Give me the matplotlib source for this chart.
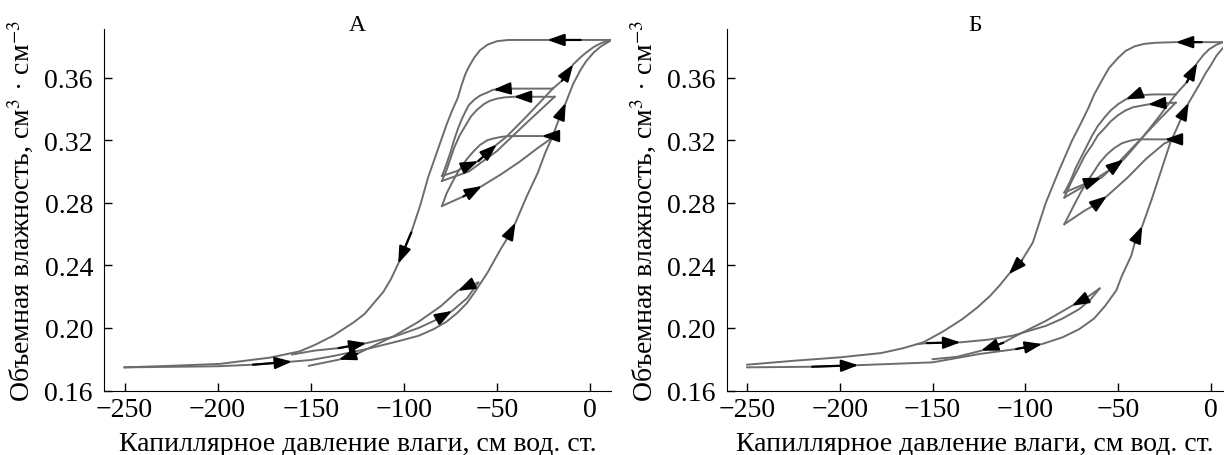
import matplotlib
matplotlib.use("Agg")
import matplotlib.pyplot as plt

plt.rcParams['font.family'] = ['Liberation Serif', 'DejaVu Serif']
plt.rcParams['mathtext.fontset'] = 'stix'

# ---- panel A: curves in the order of travel ----
a_dry_main_x = [11, -5, -23, -44, -50, -55, -59, -62, -65, -67, -69, -71, -74, -77, -82, -87, -91, -96, -103, -107, -111, -116, -121, -127, -138, -148, -156, -172, -199, -225, -250]
a_dry_main_y = [0.384, 0.384, 0.384, 0.384, 0.3832, 0.381, 0.3775, 0.373, 0.367, 0.362, 0.355, 0.347, 0.339, 0.330, 0.313, 0.296, 0.279, 0.261, 0.241, 0.231, 0.223, 0.216, 0.209, 0.2035, 0.195, 0.189, 0.185, 0.181, 0.177, 0.1758, 0.1748]

a_wet_main_x = [-250, -200, -181, -160, -150, -138, -120, -102, -92, -84, -77, -71, -66, -62, -55, -48, -44, -40, -34, -28, -24, -20, -16.5, -13, -9, -5, -2, 2, 6, 11]
a_wet_main_y = [0.1748, 0.1755, 0.1765, 0.1785, 0.1795, 0.182, 0.1865, 0.1918, 0.195, 0.1992, 0.204, 0.2099, 0.216, 0.2227, 0.2354, 0.2503, 0.258, 0.2673, 0.284, 0.2992, 0.312, 0.3226, 0.334, 0.3439, 0.356, 0.365, 0.3705, 0.376, 0.380, 0.3835]

a_scan_wet1_x = [-160, -148, -135, -120, -105, -92, -82, -74, -66, -60]
a_scan_wet1_y = [0.183, 0.1855, 0.1871, 0.1903, 0.1945, 0.200, 0.2055, 0.2109, 0.219, 0.229]
a_scan_dry1_x = [-60, -66, -71, -80, -92, -105, -125, -135, -151]
a_scan_dry1_y = [0.229, 0.2265, 0.2237, 0.214, 0.204, 0.195, 0.1835, 0.1797, 0.1758]

a_dry_s1_x = [-20, -35, -44, -52, -55, -59, -62, -65, -67, -69, -71, -73, -75, -77, -78.5, -79.5]
a_dry_s1_y = [0.3529, 0.3529, 0.3529, 0.3522, 0.3505, 0.3485, 0.346, 0.3425, 0.338, 0.333, 0.327, 0.320, 0.312, 0.305, 0.300, 0.2971]
a_wet_s1_x = [-79.5, -72, -64, -60, -50, -45, -35, -27, -20]
a_wet_s1_y = [0.2971, 0.300, 0.3045, 0.3066, 0.3173, 0.322, 0.334, 0.344, 0.3529]
a_dry_s2_x = [-19, -32, -41, -46, -50, -54, -57, -61, -64, -67, -70, -73, -75, -77, -79.5]
a_dry_s2_y = [0.3477, 0.3477, 0.3477, 0.3473, 0.3465, 0.345, 0.343, 0.339, 0.335, 0.329, 0.323, 0.315, 0.308, 0.301, 0.2939]
a_wet_s2_x = [-79.5, -65, -50, -35, -19]
a_wet_s2_y = [0.2939, 0.300, 0.313, 0.330, 0.3477]
a_dry_s3_x = [-19, -20, -26, -44, -48, -52, -55, -59, -62, -65, -68, -71, -74, -77, -79.5]
a_dry_s3_y = [0.3226, 0.3226, 0.3226, 0.3226, 0.322, 0.321, 0.320, 0.317, 0.3135, 0.3095, 0.305, 0.2995, 0.293, 0.286, 0.2779]
a_wet_s3_x = [-79.5, -68, -58, -48, -38, -28, -19]
a_wet_s3_y = [0.2779, 0.284, 0.2907, 0.298, 0.306, 0.315, 0.3226]
a_wet_top_x = [-20, -15, -9, -5, -2, 2, 6, 11]
a_wet_top_y = [0.3529, 0.358, 0.3684, 0.373, 0.376, 0.3795, 0.382, 0.384]

# ---- panel B ----
b_dry_main_x = [6.5, -5, -19, -30, -36, -41, -46, -50, -55, -59, -63, -66, -70, -75, -82, -89, -96, -102, -109, -114, -119, -126, -134, -144, -155, -166, -178, -200, -225, -250]
b_dry_main_y = [0.3826, 0.3826, 0.3826, 0.3822, 0.3815, 0.380, 0.377, 0.3726, 0.366, 0.3577, 0.349, 0.3407, 0.331, 0.3194, 0.3003, 0.280, 0.2546, 0.243, 0.2343, 0.227, 0.2205, 0.213, 0.2056, 0.198, 0.1908, 0.187, 0.1839, 0.1812, 0.179, 0.1765]

b_wet_main_x = [-250, -215, -190, -172, -150, -125, -105, -91, -80, -71, -63, -57, -51, -48, -43, -41, -37, -32, -27, -22, -16, -12, -6, -3, 0, 3, 6.5]
b_wet_main_y = [0.1748, 0.1752, 0.1762, 0.177, 0.178, 0.1833, 0.1865, 0.1897, 0.194, 0.1992, 0.206, 0.2141, 0.224, 0.2333, 0.246, 0.2546, 0.2652, 0.282, 0.300, 0.318, 0.334, 0.3439, 0.356, 0.3625, 0.368, 0.374, 0.379]

b_scan_wet1_x = [-158, -153, -135, -120, -107, -89, -80, -71, -65, -60]
b_scan_wet1_y = [0.1897, 0.1903, 0.1908, 0.1925, 0.195, 0.2013, 0.206, 0.212, 0.218, 0.2252]
b_scan_dry1_x = [-60, -68, -75, -89, -105, -112, -124, -137, -150]
b_scan_dry1_y = [0.2252, 0.2185, 0.2141, 0.2045, 0.195, 0.1905, 0.1854, 0.1815, 0.1800]

b_dry_s1_x = [-19, -30, -38, -42, -46, -50, -54, -57, -61, -64, -67, -70, -73, -75, -77, -79]
b_dry_s1_y = [0.3492, 0.3492, 0.3488, 0.348, 0.346, 0.343, 0.339, 0.335, 0.329, 0.323, 0.316, 0.309, 0.302, 0.296, 0.291, 0.2865]
b_wet_s1_x = [-79, -68, -59, -54, -47, -38, -28, -19]
b_wet_s1_y = [0.2865, 0.292, 0.296, 0.3015, 0.3077, 0.320, 0.335, 0.3492]
b_dry_s2_x = [-19, -27, -34, -42, -46, -50, -54, -57, -61, -64, -68, -71, -75, -79]
b_dry_s2_y = [0.3439, 0.3435, 0.3428, 0.341, 0.339, 0.336, 0.332, 0.328, 0.323, 0.317, 0.310, 0.303, 0.294, 0.2833]
b_wet_s2_x = [-79, -65, -52, -40, -28, -19]
b_wet_s2_y = [0.2833, 0.293, 0.303, 0.318, 0.333, 0.3439]
b_dry_s3_x = [-19, -20, -25, -40, -44, -48, -52, -56, -60, -63, -67, -70, -74, -79]
b_dry_s3_y = [0.3205, 0.3205, 0.3205, 0.3205, 0.3195, 0.318, 0.315, 0.311, 0.3055, 0.300, 0.293, 0.287, 0.278, 0.2663]
b_wet_s3_x = [-79, -68, -62, -56, -45, -35, -25, -19]
b_wet_s3_y = [0.2663, 0.275, 0.279, 0.2843, 0.296, 0.308, 0.318, 0.3205]
b_wet_top_x = [-19, -13, -7.4, -4, -1, 3, 6.5]
b_wet_top_y = [0.3492, 0.357, 0.3694, 0.3745, 0.378, 0.381, 0.3826]

# curve, arrow indices (head at point k, pointing from point k-1)
panel_a = [
    (a_dry_main_x, a_dry_main_y, [2, 18]),
    (a_wet_main_x, a_wet_main_y, [3, 17, 23]),
    (a_scan_wet1_x, a_scan_wet1_y, [3, 7]),
    (a_scan_dry1_x, a_scan_dry1_y, [2, 7]),
    (a_dry_s1_x, a_dry_s1_y, [3]),
    (a_wet_s1_x, a_wet_s1_y, [3, 4]),
    (a_dry_s2_x, a_dry_s2_y, [2]),
    (a_wet_s2_x, a_wet_s2_y, []),
    (a_dry_s3_x, a_dry_s3_y, [2]),
    (a_wet_s3_x, a_wet_s3_y, [2]),
    (a_wet_top_x, a_wet_top_y, [2]),
]
panel_b = [
    (b_dry_main_x, b_dry_main_y, [2, 18]),
    (b_wet_main_x, b_wet_main_y, [2, 7, 16, 21]),
    (b_scan_wet1_x, b_scan_wet1_y, [2]),
    (b_scan_dry1_x, b_scan_dry1_y, [2, 6]),
    (b_dry_s1_x, b_dry_s1_y, [4]),
    (b_wet_s1_x, b_wet_s1_y, [2, 4]),
    (b_dry_s2_x, b_dry_s2_y, [2]),
    (b_wet_s2_x, b_wet_s2_y, []),
    (b_dry_s3_x, b_dry_s3_y, [2]),
    (b_wet_s3_x, b_wet_s3_y, [3]),
    (b_wet_top_x, b_wet_top_y, [2]),
]

xticks = [-250, -200, -150, -100, -50, 0]
yticks = [0.16, 0.20, 0.24, 0.28, 0.32, 0.36]
titles = ["А", "Б"]
xlabel = "Капиллярное давление влаги, см вод. ст."
ylabel = "Объемная влажность, см$^3$ · см$^{-3}$"

fig = plt.figure(figsize=(12.24, 4.56), dpi=100)
axA = fig.add_axes([0.0850, 0.1414, 0.4142, 0.7928])
axB = fig.add_axes([0.5937, 0.1414, 0.4055, 0.7928])

for ax, curves, title, xmax in [(axA, panel_a, titles[0], 11.3), (axB, panel_b, titles[1], 6.5)]:
    for xs, ys, arrows in curves:
        ax.plot(xs, ys, color='#6c6c6c', lw=1.4, solid_joinstyle='round')
        for k in arrows:
            ax.annotate('', xy=(xs[k], ys[k]), xytext=(xs[k - 1], ys[k - 1]),
                        arrowprops=dict(arrowstyle='-|>,head_length=0.85,head_width=0.3',
                                        mutation_scale=12, color='black', lw=1.6,
                                        shrinkA=0, shrinkB=0))
    ax.set_xlim(-261, xmax)
    ax.set_ylim(0.16, 0.391)
    ax.set_xticks(xticks)
    ax.set_xticklabels([f"{t}".replace('-', '\u2212') for t in xticks])
    ax.set_yticks(yticks)
    ax.set_yticklabels([f"{t:.2f}" for t in yticks])
    ax.tick_params(direction='in', length=6, width=1, labelsize=20, pad=5)
    ax.tick_params(axis='y', pad=8)
    for s in ['top', 'right']:
        ax.spines[s].set_visible(False)
    ax.set_title(title, fontsize=17, y=1.0, pad=-1)
    ax.set_xlabel(xlabel, fontsize=20, labelpad=6)
    ax.set_ylabel(ylabel, fontsize=20, labelpad=6)

fig.savefig("out.png", dpi=100)
